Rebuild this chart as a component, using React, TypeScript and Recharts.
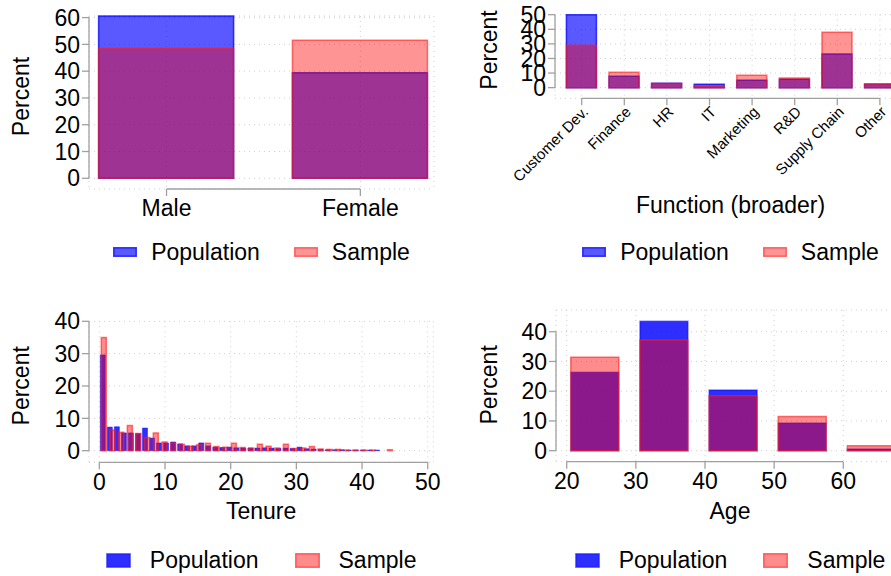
import React from 'react';
import { BarChart, Bar, XAxis, YAxis, CartesianGrid, ReferenceLine, Legend } from 'recharts';

const FONT = '"Liberation Sans", Arial, Helvetica, sans-serif';
const AXIS_GRAY = '#a0a0a0';
const GRID_GRAY = '#cfcfcf';
const TEXT = '#000000';

// ---- Gender ----
const genderCategories = ['Male', 'Female'];
const genderPopulation = [60.6, 39.4];
const genderSample = [48.5, 51.5];
const genderPercentTicks = [0, 10, 20, 30, 40, 50, 60];

// ---- Function (broader) ----
const functionCategories = ['Customer Dev.', 'Finance', 'HR', 'IT', 'Marketing', 'R&D', 'Supply Chain', 'Other'];
const functionPopulation = [50.0, 7.8, 3.1, 2.3, 5.0, 5.7, 23.1, 2.5];
const functionSample = [29.0, 10.5, 2.9, 1.2, 8.5, 6.6, 37.9, 2.2];
const functionPercentTicks = [0, 10, 20, 30, 40, 50];

// ---- Tenure (histograms with different bin widths) ----
const tenurePopulationBinWidth = 1.07;
const tenurePopulation = [
  29.6, 7.3, 7.4, 5.5, 5.5, 5.3, 7.0, 3.9, 2.4, 2.4,
  2.7, 2.1, 1.5, 1.5, 2.4, 1.5, 1.1, 1.0, 1.1, 0.9,
  0.8, 0.8, 0.8, 0.9, 0.8, 0.7, 0.8, 0.7, 1.1, 0.6,
  0.5, 0.4, 0.3, 0.3, 0.3, 0.2, 0.2, 0.2, 0.2, 0.2,
];
const tenureSampleBinWidth = 1.32;
const tenureSample = [
  35.0, 6.4, 5.7, 7.8, 5.3, 4.1, 5.5, 2.7, 2.4, 2.0,
  1.4, 1.8, 2.3, 1.3, 1.1, 2.3, 1.0, 0.8, 2.0, 1.4,
  0.8, 2.0, 0.7, 0.8, 1.3, 0.5, 0.4, 0.4, 0.2, 0.2,
  0.2, 0.2, 0.0, 0.3,
];
const tenureTicks = [0, 10, 20, 30, 40, 50];
const tenurePercentTicks = [0, 10, 20, 30, 40];

// ---- Age ----
const ageBinCenters = [24, 34, 44, 54, 64];
const agePopulation = [26.4, 43.5, 20.4, 9.3, 0.6];
const ageSample = [31.4, 37.2, 18.5, 11.5, 1.7];
const ageTicks = [20, 30, 40, 50, 60];
const agePercentTicks = [0, 10, 20, 30, 40];

type SeriesStyle = { name: string; fill: string; fillOpacity: number; stroke: string; strokeOpacity: number };

const upperSeries: SeriesStyle[] = [
  { name: 'Population', fill: '#0000ff', fillOpacity: 0.65, stroke: '#0000ff', strokeOpacity: 0.75 },
  { name: 'Sample', fill: '#ff0000', fillOpacity: 0.42, stroke: '#ff1a1a', strokeOpacity: 0.6 },
];
const lowerSeries: SeriesStyle[] = [
  { name: 'Population', fill: '#0000ff', fillOpacity: 0.82, stroke: '#0000ff', strokeOpacity: 0.45 },
  { name: 'Sample', fill: '#ff0000', fillOpacity: 0.45, stroke: '#ff1a1a', strokeOpacity: 0.6 },
];

const tickText = { fontSize: 23, fill: TEXT, fontFamily: FONT };
const tickLineStyle = { stroke: AXIS_GRAY, strokeWidth: 1.3 };
const axisLineProps = { stroke: AXIS_GRAY, strokeWidth: 1.3, ifOverflow: 'visible' as const };

function percentTitle(centerX: number, shiftY: number) {
  return (props: any) => {
    const vb = props.viewBox || {};
    const cx = vb.x + centerX;
    const cy = vb.y + vb.height / 2 + shiftY;
    return (
      <text x={cx} y={cy} transform={`rotate(-90 ${cx} ${cy})`} textAnchor="middle" dominantBaseline="central"
        fontSize={23} fontFamily={FONT} fill={TEXT}>Percent</text>
    );
  };
}

function axisTitle(text: string) {
  return (props: any) => {
    const vb = props.viewBox || {};
    return (
      <text x={vb.x + vb.width / 2} y={vb.y + vb.height} textAnchor="middle" fontSize={23} fontFamily={FONT} fill={TEXT}>
        {text}
      </text>
    );
  };
}

function SeriesLegend({ series, swatchW, swatchH, textGap, itemGap }: {
  series: SeriesStyle[]; swatchW: number; swatchH: number; textGap: number; itemGap: number;
}) {
  return (
    <div style={{ display: 'flex', justifyContent: 'center', alignItems: 'center', height: 28, fontFamily: FONT, fontSize: 23, lineHeight: '28px', color: TEXT }}>
      {series.map((s, i) => (
        <div key={s.name} style={{ display: 'flex', alignItems: 'center', marginLeft: i ? itemGap : 0 }}>
          <svg width={swatchW} height={swatchH} style={{ display: 'block' }}>
            <rect x={0.75} y={0.75} width={swatchW - 1.5} height={swatchH - 1.5} fill={s.fill} fillOpacity={s.fillOpacity}
              stroke={s.stroke} strokeOpacity={s.strokeOpacity} strokeWidth={1.5} />
          </svg>
          <span style={{ marginLeft: textGap, whiteSpace: 'nowrap' }}>{s.name}</span>
        </div>
      ))}
    </div>
  );
}

function barStyle(s: SeriesStyle) {
  return { name: s.name, fill: s.fill, fillOpacity: s.fillOpacity, stroke: s.stroke, strokeOpacity: s.strokeOpacity, strokeWidth: 1.5 };
}

function GenderPanel() {
  const rows = genderCategories.map((_, i) => ({ idx: i, population: genderPopulation[i], sample: genderSample[i] }));
  const xDomain: [number, number] = [-0.4, 1.38];
  const yDomain: [number, number] = [-4, 60];
  return (
    <BarChart width={445} height={290} data={rows} margin={{ top: 16, right: 11, bottom: 61, left: 0 }}>
      <CartesianGrid xAxisId="pop" stroke={GRID_GRAY} strokeDasharray="1 4" />
      <XAxis xAxisId="pop" type="number" dataKey="idx" domain={xDomain} ticks={[0, 1]} interval={0}
        tickFormatter={(v: number) => genderCategories[v]} height={40} axisLine={false}
        tickSize={7} tickMargin={4} tickLine={tickLineStyle} tick={tickText} />
      <XAxis xAxisId="smp" type="number" dataKey="idx" domain={xDomain} hide />
      <YAxis type="number" domain={yDomain} ticks={genderPercentTicks} interval={0} width={89} axisLine={false}
        tickSize={7} tickMargin={2} tickLine={tickLineStyle} tick={tickText} label={percentTitle(21, -6)} />
      <ReferenceLine xAxisId="pop" segment={[{ x: 0, y: yDomain[0] }, { x: 1, y: yDomain[0] }]} {...axisLineProps} />
      <ReferenceLine xAxisId="pop" segment={[{ x: xDomain[0], y: 0 }, { x: xDomain[0], y: 60 }]} {...axisLineProps} />
      <Bar xAxisId="pop" dataKey="population" barSize={135} {...barStyle(upperSeries[0])} isAnimationActive={false} />
      <Bar xAxisId="smp" dataKey="sample" barSize={135} {...barStyle(upperSeries[1])} isAnimationActive={false} />
      <Legend verticalAlign="middle" align="center" wrapperStyle={{ left: 89, top: 238, width: 345, height: 28 }}
        content={() => <SeriesLegend series={upperSeries} swatchW={24} swatchH={10} textGap={14} itemGap={34} />} />
    </BarChart>
  );
}

function FunctionPanel() {
  const rows = functionCategories.map((_, i) => ({ idx: i, population: functionPopulation[i], sample: functionSample[i] }));
  const xDomain: [number, number] = [-0.627, 7.613];
  const yDomain: [number, number] = [-7.3, 50];
  const last = functionCategories.length - 1;
  return (
    <BarChart width={461} height={290} data={rows} margin={{ top: 14.7, right: 0, bottom: 76.7, left: 0 }}>
      <CartesianGrid xAxisId="pop" stroke={GRID_GRAY} strokeDasharray="1 4" />
      <XAxis xAxisId="pop" type="number" dataKey="idx" domain={xDomain} ticks={functionCategories.map((_, i) => i)}
        interval={0} tickFormatter={(v: number) => functionCategories[v]} height={115} axisLine={false}
        tickSize={7} tickMargin={0} tickLine={tickLineStyle}
        tick={{ ...tickText, fontSize: 15, angle: -45, textAnchor: 'end' }}
        label={axisTitle('Function (broader)')} />
      <XAxis xAxisId="smp" type="number" dataKey="idx" domain={xDomain} hide />
      <YAxis type="number" domain={yDomain} ticks={functionPercentTicks} interval={0} width={110} axisLine={false}
        tickSize={7} tickMargin={2} tickLine={tickLineStyle} tick={tickText} label={percentTitle(44, -6.5)} />
      <ReferenceLine xAxisId="pop" segment={[{ x: 0, y: yDomain[0] }, { x: last, y: yDomain[0] }]} {...axisLineProps} />
      <ReferenceLine xAxisId="pop" segment={[{ x: xDomain[0], y: 0 }, { x: xDomain[0], y: 50 }]} {...axisLineProps} />
      <Bar xAxisId="pop" dataKey="population" barSize={30} {...barStyle(upperSeries[0])} isAnimationActive={false} />
      <Bar xAxisId="smp" dataKey="sample" barSize={30} {...barStyle(upperSeries[1])} isAnimationActive={false} />
      <Legend verticalAlign="middle" align="center" wrapperStyle={{ left: 110, top: 238, width: 351, height: 28 }}
        content={() => <SeriesLegend series={upperSeries} swatchW={24} swatchH={10} textGap={14} itemGap={34} />} />
    </BarChart>
  );
}

function TenurePanel() {
  const popRows = tenurePopulation.map((v, i) => ({ tenure: (i + 0.5) * tenurePopulationBinWidth, population: v }));
  const sampleRows = tenureSample.map((v, i) => ({ tenure: (i + 0.5) * tenureSampleBinWidth, sample: v }));
  const xDomain: [number, number] = [-1.57, 50.85];
  const yDomain: [number, number] = [-3.59, 40];
  const W = 445;
  const H = 286;
  const margin = { top: 31.3, right: 11.7, bottom: 57.5, left: 0 };
  const yAxisW = 89;
  const xAxisH = 56.2;
  return (
    <div style={{ position: 'relative', width: W, height: H }}>
      <div style={{ position: 'absolute', left: 0, top: 0 }}>
        <BarChart width={W} height={H} data={popRows} margin={margin}>
          <CartesianGrid stroke={GRID_GRAY} strokeDasharray="1 4" />
          <XAxis type="number" dataKey="tenure" domain={xDomain} ticks={tenureTicks} interval={0} height={xAxisH}
            axisLine={false} tickSize={7} tickMargin={4} tickLine={tickLineStyle} tick={tickText} label={axisTitle('Tenure')} />
          <YAxis type="number" domain={yDomain} ticks={tenurePercentTicks} interval={0} width={yAxisW} axisLine={false}
            tickSize={7} tickMargin={2} tickLine={tickLineStyle} tick={tickText} label={percentTitle(21, -6)} />
          <ReferenceLine segment={[{ x: 0, y: yDomain[0] }, { x: 50, y: yDomain[0] }]} {...axisLineProps} />
          <ReferenceLine segment={[{ x: xDomain[0], y: 0 }, { x: xDomain[0], y: 40 }]} {...axisLineProps} />
          <Bar dataKey="population" barSize={5} {...barStyle(lowerSeries[0])} strokeWidth={1} isAnimationActive={false} />
          <Legend verticalAlign="middle" align="center" wrapperStyle={{ left: yAxisW, top: 256, width: W - yAxisW - margin.right, height: 28 }}
            content={() => <SeriesLegend series={lowerSeries} swatchW={25} swatchH={15} textGap={19} itemGap={36} />} />
        </BarChart>
      </div>
      <div style={{ position: 'absolute', left: 0, top: 0 }}>
        <BarChart width={W} height={H} data={sampleRows}
          margin={{ top: margin.top, right: margin.right, bottom: margin.bottom + xAxisH, left: yAxisW }}>
          <XAxis type="number" dataKey="tenure" domain={xDomain} hide />
          <YAxis type="number" domain={yDomain} hide />
          <Bar dataKey="sample" barSize={5} {...barStyle(lowerSeries[1])} isAnimationActive={false} />
        </BarChart>
      </div>
    </div>
  );
}

function AgePanel() {
  const rows = ageBinCenters.map((age, i) => ({ age, population: agePopulation[i], sample: ageSample[i] }));
  const xDomain: [number, number] = [18.45, 68.78];
  const yDomain: [number, number] = [-3.7, 47.3];
  return (
    <BarChart width={459} height={286} data={rows} margin={{ top: 20, right: 0, bottom: 57.5, left: 0 }}>
      <CartesianGrid xAxisId="pop" stroke={GRID_GRAY} strokeDasharray="1 4" />
      <XAxis xAxisId="pop" type="number" dataKey="age" domain={xDomain} ticks={ageTicks} interval={0} height={56.8}
        axisLine={false} tickSize={7} tickMargin={4} tickLine={tickLineStyle} tick={tickText} label={axisTitle('Age')} />
      <XAxis xAxisId="smp" type="number" dataKey="age" domain={xDomain} hide />
      <YAxis type="number" domain={yDomain} ticks={agePercentTicks} interval={0} width={111} axisLine={false}
        tickSize={7} tickMargin={2} tickLine={tickLineStyle} tick={tickText} label={percentTitle(44, -1)} />
      <ReferenceLine xAxisId="pop" segment={[{ x: 20, y: yDomain[0] }, { x: 60, y: yDomain[0] }]} {...axisLineProps} />
      <ReferenceLine xAxisId="pop" segment={[{ x: xDomain[0], y: 0 }, { x: xDomain[0], y: 40 }]} {...axisLineProps} />
      <Bar xAxisId="pop" dataKey="population" barSize={48} {...barStyle(lowerSeries[0])} isAnimationActive={false} />
      <Bar xAxisId="smp" dataKey="sample" barSize={48} {...barStyle(lowerSeries[1])} isAnimationActive={false} />
      <Legend verticalAlign="middle" align="center" wrapperStyle={{ left: 111, top: 256, width: 348, height: 28 }}
        content={() => <SeriesLegend series={lowerSeries} swatchW={25} swatchH={15} textGap={19} itemGap={36} />} />
    </BarChart>
  );
}

export default function App() {
  return (
    <div style={{ position: 'fixed', left: 0, top: 0, width: 891, height: 576, overflow: 'hidden', background: '#ffffff', fontFamily: FONT }}>
      <div style={{ position: 'absolute', left: 0, top: 0 }}><GenderPanel /></div>
      <div style={{ position: 'absolute', left: 445, top: 0 }}><FunctionPanel /></div>
      <div style={{ position: 'absolute', left: 0, top: 290 }}><TenurePanel /></div>
      <div style={{ position: 'absolute', left: 445, top: 290 }}><AgePanel /></div>
    </div>
  );
}
